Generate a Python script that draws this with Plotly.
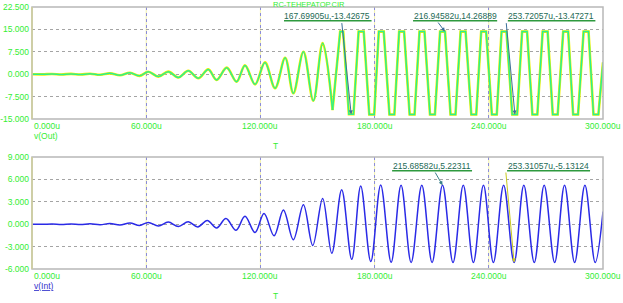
import plotly.graph_objects as go

# ---------------- data ----------------
# v(Out): growth phase (extremes, microseconds / volts)
t_out_grow = [0, 5.5, 10.5, 15.5, 20.5, 25.5, 30.5, 35.8, 41.0, 46.2, 51.5, 56.5,
              61.1, 66.4, 71.6, 76.9, 82.1, 87.4, 92.6, 97.0, 102.3, 107.5, 111.9,
              117.2, 122.4, 127.7, 133.0, 137.3, 142.6, 147.8, 152.7, 157.9]
v_out_grow = [0, -0.05, 0.08, -0.08, 0.1, -0.12, 0.15, -0.2, 0.28, -0.36, 0.5, -0.55,
              0.8, -0.8, 0.85, -1.1, 1.15, -1.35, 1.6, -1.9, 2.2, -2.5, 2.95,
              -3.4, 3.95, -4.7, 5.5, -6.4, 7.5, -8.9, 10.4, -12.0]
# v(Out): clipped phase (flat top / flat bottom corners)
t_out_clip = [157.9, 161.9, 163.5, 166.5, 168.9, 171.6, 174.3, 177.2, 179.8,
              182.2, 184.8, 187.8, 190.4, 192.9, 195.5, 198.4, 201.0, 203.6, 206.2,
              209.1, 211.7, 214.4, 217.0, 219.9, 222.5, 225.2, 227.8, 230.8, 233.4,
              236.0, 238.6, 241.6, 244.2, 246.7, 249.3, 252.3, 254.9, 257.5, 260.1,
              262.9, 265.5, 268.3, 270.9, 273.6, 276.2, 279.1, 281.7, 284.3, 286.9,
              289.8, 292.4, 295.0, 297.6, 300.0]
v_out_clip = [-12.0, 14.27, 14.27, -13.43, -13.43, 14.27, 14.27, -13.47, -13.47,
              14.27, 14.27, -13.47, -13.47, 14.27, 14.27, -13.47, -13.47, 14.27, 14.27,
              -13.47, -13.47, 14.27, 14.27, -13.47, -13.47, 14.27, 14.27, -13.47, -13.47,
              14.27, 14.27, -13.47, -13.47, 14.27, 14.27, -13.47, -13.47, 14.27, 14.27,
              -13.47, -13.47, 14.27, 14.27, -13.47, -13.47, 14.27, 14.27, -13.47, -13.47,
              14.27, 14.27, -13.47, -13.47, 4.0]

# v(Int): extremes
t_int = [0, 5.5, 10.5, 15.5, 20.5, 25.5, 30.5, 35.8, 41.0, 46.2, 51.5, 56.5, 61.1,
         66.4, 71.6, 76.9, 82.1, 87.1, 92.1, 97.0, 101.9, 107.2, 111.9, 117.2, 121.9,
         127.2, 132.1, 137.3, 142.6, 147.5, 152.7, 157.5, 162.7, 168.0, 172.7, 178.0,
         183.2, 188.7, 193.9, 199.2, 204.8, 210.2, 215.69, 221.2, 226.6, 231.9, 237.2,
         242.4, 247.8, 253.31, 258.4, 263.9, 269.1, 274.6, 279.8, 285.1, 290.5, 295.9,
         300.0]
v_int = [0, -0.02, 0.03, -0.03, 0.04, -0.04, 0.05, -0.06, 0.08, -0.12, 0.17, -0.17, 0.24,
         -0.24, 0.28, -0.3, 0.33, -0.36, 0.5, -0.5, 0.75, -0.8, 1.05, -1.12, 1.42,
         -1.55, 1.9, -2.08, 2.6, -2.85, 3.45, -3.9, 4.6, -4.7, 5.12, -5.0,
         5.25, -5.1, 5.22, -5.12, 5.22, -5.12, 5.22311, -5.13, 5.22, -5.13, 5.22,
         -5.13, 5.22, -5.13124, 5.22, -5.13, 5.22, -5.13, 5.22, -5.13, 5.22, -5.13,
         1.7]

# cursor markers
mark_out_t = [167.69905, 216.94582, 253.72057]
mark_out_v = [-13.42675, 14.26889, -13.47271]
mark_int_t = [215.68582, 253.31057]
mark_int_v = [5.22311, -5.13124]

x_tick_vals = [0, 60, 120, 180, 240, 300]
x_tick_text = ["0.000u", "60.000u", "120.000u", "180.000u", "240.000u", "300.000u"]
y1_tick_vals = [-15, -7.5, 0, 7.5, 15, 22.5]
y1_tick_text = ["-15.000", "-7.500", "0.000", "7.500", "15.000", "22.500"]
y2_tick_vals = [-6, -3, 0, 3, 6, 9]
y2_tick_text = ["-6.000", "-3.000", "0.000", "3.000", "6.000", "9.000"]

# ---------------- styling ----------------
GREEN = "#33ee33"
FONT = "Liberation Sans, Arial, sans-serif"
LBL = "#1d6a55"
ULINE = "#2e9a3e"

fig = go.Figure()
for col, w in [("#f0f000", 2.6), ("#2cf08c", 1.5)]:
    fig.add_trace(go.Scatter(x=t_out_grow, y=v_out_grow, mode="lines",
                             line=dict(color=col, width=w, shape="spline", smoothing=1),
                             xaxis="x", yaxis="y", hoverinfo="skip"))
    fig.add_trace(go.Scatter(x=t_out_clip, y=v_out_clip, mode="lines",
                             line=dict(color=col, width=w),
                             xaxis="x", yaxis="y", hoverinfo="skip"))
fig.add_trace(go.Scatter(x=t_int, y=v_int, mode="lines",
                         line=dict(color="#2a2ae6", width=1.5, shape="spline", smoothing=1),
                         xaxis="x2", yaxis="y2", hoverinfo="skip"))

grid_x = [v for v in x_tick_vals if 0 < v < 300]
common_x = dict(range=[0, 300], tickvals=grid_x, showticklabels=False, showgrid=True,
                gridcolor="#8c8cd8", griddash="3px,3px", gridwidth=1, zeroline=False,
                ticks="", showline=False, fixedrange=True, automargin=False)
common_y = dict(showgrid=True, gridcolor="#a4a4a4", griddash="3px,3px", gridwidth=1,
                zeroline=False, ticks="", showline=False, automargin=False,
                tickfont=dict(color=GREEN, size=8.5, family=FONT), ticklabelstandoff=2)

fig.update_layout(
    width=623, height=303, margin=dict(l=32, r=20, t=7, b=34, autoexpand=False),
    paper_bgcolor="white", plot_bgcolor="white", showlegend=False,
    xaxis=dict(domain=[0, 1], anchor="y", **common_x),
    yaxis=dict(domain=[0.5725, 1], range=[-15, 22.5], tickvals=y1_tick_vals,
               ticktext=y1_tick_text, **common_y),
    xaxis2=dict(domain=[0, 1], anchor="y2", **common_x),
    yaxis2=dict(domain=[0, 0.4275], range=[-6, 9], tickvals=y2_tick_vals,
                ticktext=y2_tick_text, **common_y),
)

shapes = []
anns = []
for xa, ya in [("x", "y"), ("x2", "y2")]:
    # pale yellow under vertical dashed grid
    for gx in grid_x:
        shapes.append(dict(type="line", xref=xa, yref=f"{ya} domain", x0=gx, x1=gx, y0=0, y1=1,
                           line=dict(color="#f0f0a8", width=1), layer="below"))
    # frame
    shapes.append(dict(type="rect", xref=f"{xa} domain", yref=f"{ya} domain", x0=0, x1=1, y0=0, y1=1,
                       line=dict(color="#b8b8b8", width=1.5), layer="above"))
    shapes.append(dict(type="line", xref=f"{xa} domain", yref=f"{ya} domain", x0=0, x1=0, y0=0, y1=1,
                       line=dict(color="#cfcf9a", width=1.5), layer="above"))
    # x tick labels
    for i, (v, txt) in enumerate(zip(x_tick_vals, x_tick_text)):
        anns.append(dict(x=v, y=0, xref=xa, yref=f"{ya} domain", text=txt, showarrow=False,
                         xanchor="left" if i == 0 else "center", yanchor="top", yshift=0,
                         font=dict(color=GREEN, size=8.5, family=FONT)))
    anns.append(dict(x=0.427, y=-0.241, xref=f"{xa} domain", yref=f"{ya} domain", text="T",
                     showarrow=False, xanchor="center", yanchor="middle",
                     font=dict(color=GREEN, size=8.5, family=FONT)))

anns.append(dict(x=0, y=-0.152, xref="x domain", yref="y domain", text="v(Out)", showarrow=False,
                 xanchor="left", yanchor="middle", font=dict(color=GREEN, size=8.5, family=FONT)))
anns.append(dict(x=0, y=-0.152, xref="x2 domain", yref="y2 domain", text="<u>v(Int)</u>",
                 showarrow=False, xanchor="left", yanchor="middle",
                 font=dict(color="#3333cc", size=8.5, family=FONT)))
anns.append(dict(x=0.485, y=1.0, xref="x domain", yref="y domain", text="RC-TEHEPATOP.CIR",
                 showarrow=False, xanchor="center", yanchor="bottom", yshift=-3, borderpad=0,
                 font=dict(color=GREEN, size=7.5, family=FONT)))

# cursor labels: (text center t, text v, underline t0, t1, underline v, arrow tail t, tail v)
top_lbl = [(155.0, 19.65, 132.4, 178.4, 17.9, 162.7, 17.6),
           (222.3, 19.65, 200.2, 244.4, 17.9, 212.8, 17.8),
           (272.7, 19.65, 250.0, 296.0, 17.9, 249.1, 17.6)]
bot_lbl = [(210.0, 7.83, 189.2, 231.2, 7.16, 211.4, 7.12),
           (271.3, 7.83, 249.6, 293.2, 7.16, 248.9, 7.12)]
for xa, ya, mts, mvs, lbls, arrcols in [("x", "y", mark_out_t, mark_out_v, top_lbl,
                                        ["#3a6f9a", "#3a6f9a", "#3a6f9a"]),
                                       ("x2", "y2", mark_int_t, mark_int_v, bot_lbl,
                                        ["#3a7f8a", "#c8c820"])]:
    for mt, mv, (tx, ty, u0, u1, uy, at, av), ac in zip(mts, mvs, lbls, arrcols):
        anns.append(dict(x=tx, y=ty, xref=xa, yref=ya, text=f"{mt:.5f}u,{mv:.5f}",
                         showarrow=False, xanchor="center", yanchor="middle",
                         font=dict(color=LBL, size=8.5, family=FONT)))
        shapes.append(dict(type="line", xref=xa, yref=ya, x0=u0, x1=u1, y0=uy, y1=uy,
                           line=dict(color=ULINE, width=1.5), layer="above"))
        anns.append(dict(x=mt, y=mv, xref=xa, yref=ya, ax=at, ay=av, axref=xa, ayref=ya,
                         text="", showarrow=True, arrowhead=2, arrowsize=0.8, arrowwidth=1,
                         arrowcolor=ac, standoff=0))

fig.update_layout(shapes=shapes, annotations=anns)
fig.write_html("out.html")
